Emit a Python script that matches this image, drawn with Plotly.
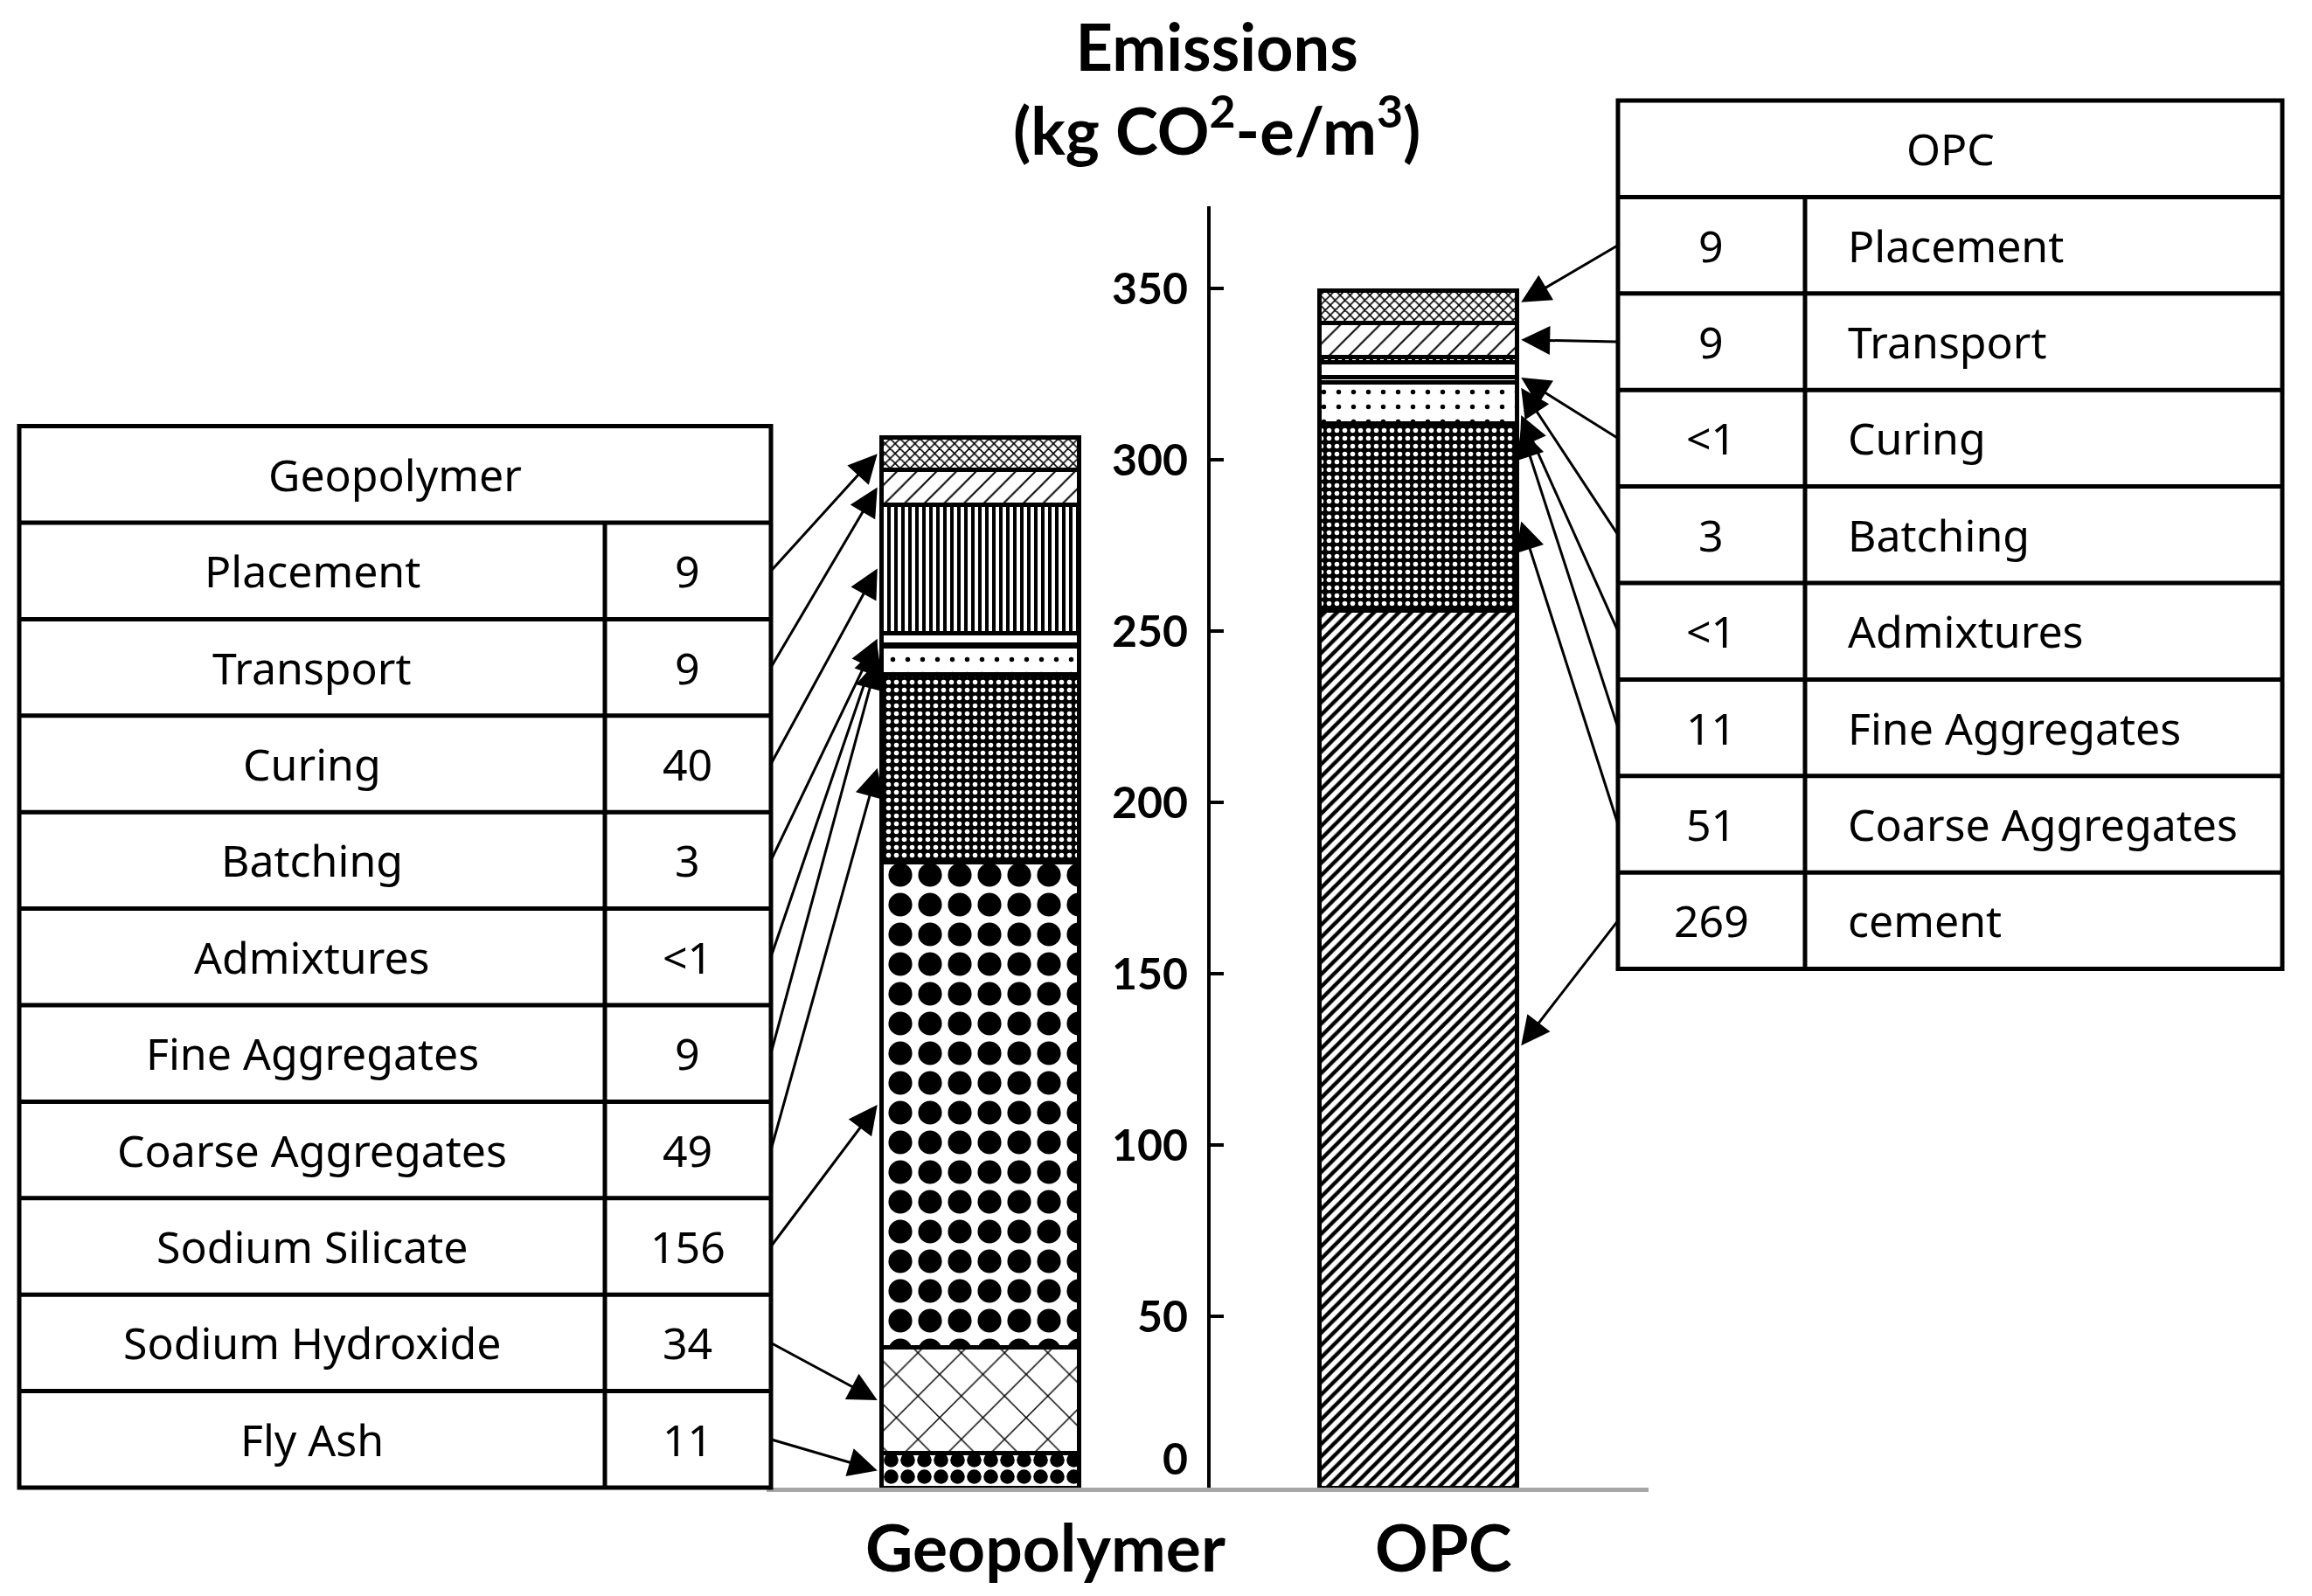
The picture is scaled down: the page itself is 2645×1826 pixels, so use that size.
import plotly.graph_objects as go

W, H = 2645, 1826
OFF = 8  # the page puts the figure 8px in from the top-left corner

CATEGORIES = ["Geopolymer", "OPC"]

# stacked segments, bottom to top (heights as drawn in the bars)
GEO_PARTS = ["Fly Ash", "Sodium Hydroxide", "Sodium Silicate", "Coarse Aggregates",
             "Fine Aggregates", "Admixtures", "Batching", "Curing", "Transport", "Placement"]
GEO_VALUES = [10, 31, 141.5, 55, 8, 0.5, 3.5, 37.5, 10, 9.5]

OPC_PARTS = ["cement", "Coarse Aggregates", "Fine Aggregates", "Admixtures",
             "Batching", "Curing", "Transport", "Placement"]
OPC_VALUES = [256, 54.5, 12, 1.5, 4.5, 1.5, 10, 9.5]

# table contents, top to bottom
GEO_TABLE_NAMES = ["Placement", "Transport", "Curing", "Batching", "Admixtures",
                   "Fine Aggregates", "Coarse Aggregates", "Sodium Silicate",
                   "Sodium Hydroxide", "Fly Ash"]
GEO_TABLE_VALUES = ["9", "9", "40", "3", "<1", "9", "49", "156", "34", "11"]

OPC_TABLE_NAMES = ["Placement", "Transport", "Curing", "Batching", "Admixtures",
                   "Fine Aggregates", "Coarse Aggregates", "cement"]
OPC_TABLE_VALUES = ["9", "9", "<1", "3", "<1", "11", "51", "269"]

# where the OPC arrows land on the bar (table order)
OPC_ARROW_AT = [346, 335, 324, 321, 313, 309, 282, 129]

Y_TICKS = [0, 50, 100, 150, 200, 250, 300, 350]
Y_MAX = 374

PATTERNS = {
    "Placement": dict(shape="x", size=8, solidity=0.35),
    "Transport": dict(shape="/", size=16, solidity=0.12),
    "Curing": dict(shape="|", size=8, solidity=0.5),
    "Batching": dict(shape=""),
    "Admixtures": dict(shape=""),
    "Fine Aggregates": dict(shape=".", size=17, solidity=0.08),
    "Coarse Aggregates": dict(shape=".", size=9, solidity=0.3, fgcolor="white", bgcolor="black"),
    "Sodium Silicate": dict(shape=".", size=34, solidity=0.5),
    "Sodium Hydroxide": dict(shape="x", size=35, solidity=0.08),
    "Fly Ash": dict(shape=".", size=19, solidity=0.6),
    "cement": dict(shape="/", size=10, solidity=0.45),
}


def px(x):
    return (x - OFF) / W


def py(y):
    return 1 - (y - OFF) / H


def esc(s):
    return s.replace("<", "&lt;")


BAR_W = 0.45
XD = [px(877), px(1886)]
XR = [-0.488, 1.526]
YD = [py(1702), py(236)]

BOLD = dict(family="Lato", color="black", weight="bold")
TABLE_FONT = dict(family="Noto Sans", size=50, color="black")


def x_of(p):
    return XR[0] + (p - XD[0]) / (XD[1] - XD[0]) * (XR[1] - XR[0])


def y_of(p):
    return (p - YD[0]) / (YD[1] - YD[0]) * Y_MAX


fig = go.Figure()

for cat, parts, values in [(CATEGORIES[0], GEO_PARTS, GEO_VALUES),
                           (CATEGORIES[1], OPC_PARTS, OPC_VALUES)]:
    for part, v in zip(parts, values):
        pat = dict(fgcolor="black", bgcolor="white", fillmode="replace")
        pat.update(PATTERNS[part])
        fig.add_trace(go.Bar(
            x=[cat], y=[v], width=BAR_W, name=part,
            marker=dict(color="white", line=dict(color="black", width=5), pattern=pat),
            showlegend=False, hoverinfo="skip",
        ))

# tables
RH = 110.4 / H
LT = dict(x0=px(22), xd=px(692), x1=px(882), top=YD[0] + 11 * RH)
RT = dict(x0=px(1851), xd=px(2065), x1=px(2611), top=py(115))


def table_text(x, y, text, anchor="center"):
    fig.add_annotation(x=x, y=y, xref="paper", yref="paper", xanchor=anchor,
                       yanchor="middle", text=esc(text), showarrow=False, font=TABLE_FONT)


def draw_table(t, header, n):
    bottom = t["top"] - (n + 1) * RH
    line = dict(color="black", width=5)
    fig.add_shape(type="rect", xref="paper", yref="paper", x0=t["x0"], x1=t["x1"],
                  y0=bottom, y1=t["top"], line=line)
    for i in range(1, n + 1):
        yy = t["top"] - i * RH
        fig.add_shape(type="line", xref="paper", yref="paper", x0=t["x0"], x1=t["x1"],
                      y0=yy, y1=yy, line=line)
    fig.add_shape(type="line", xref="paper", yref="paper", x0=t["xd"], x1=t["xd"],
                  y0=bottom, y1=t["top"] - RH, line=line)
    table_text((t["x0"] + t["x1"]) / 2, t["top"] - RH / 2, header)


def row_mid(t, i):
    return t["top"] - (i + 1.5) * RH


draw_table(LT, "Geopolymer", len(GEO_TABLE_NAMES))
draw_table(RT, "OPC", len(OPC_TABLE_NAMES))

for i, (name, val) in enumerate(zip(GEO_TABLE_NAMES, GEO_TABLE_VALUES)):
    table_text((LT["x0"] + LT["xd"]) / 2, row_mid(LT, i), name)
    table_text((LT["xd"] + LT["x1"]) / 2, row_mid(LT, i), val)

for i, (name, val) in enumerate(zip(OPC_TABLE_NAMES, OPC_TABLE_VALUES)):
    table_text((RT["x0"] + RT["xd"]) / 2, row_mid(RT, i), val)
    table_text(px(2112), row_mid(RT, i), name, anchor="left")

# arrows from the tables to the bar segments
arrow = dict(xref="x", yref="y", axref="x", ayref="y", text="", showarrow=True,
             arrowhead=2, arrowsize=2.2, arrowwidth=3, arrowcolor="black", standoff=0)

cum = 0
geo_mid = {}
for part, v in zip(GEO_PARTS, GEO_VALUES):
    geo_mid[part] = cum + v / 2
    cum += v
for i, name in enumerate(GEO_TABLE_NAMES):
    fig.add_annotation(x=-BAR_W / 2 - 0.01, y=geo_mid[name],
                       ax=x_of(LT["x1"]), ay=y_of(row_mid(LT, i)), **arrow)

for i, at in enumerate(OPC_ARROW_AT):
    fig.add_annotation(x=1 + BAR_W / 2 + 0.01, y=at,
                       ax=x_of(RT["x0"]), ay=y_of(row_mid(RT, i)), **arrow)

# title and category labels
fig.add_annotation(x=px(1392), y=py(6), xref="paper", yref="paper", xanchor="center",
                   yanchor="top",
                   text="Emissions<br>(kg CO<sup>2</sup>-e/m<sup>3</sup>)", showarrow=False,
                   font=dict(size=74, **BOLD))
for cat, shift in zip(CATEGORIES, [75, 29]):
    fig.add_annotation(x=cat, y=py(1722), xref="x", yref="paper", xanchor="center",
                       yanchor="top", xshift=shift, text=cat, showarrow=False,
                       font=dict(size=75, **BOLD))

# the zero label sits just above the base line
tick_text = [str(t) if t else "0<br> " for t in Y_TICKS]

fig.update_layout(
    width=W, height=H,
    margin=dict(l=0, r=0, t=0, b=0, autoexpand=False),
    barmode="stack",
    paper_bgcolor="white",
    plot_bgcolor="white",
    showlegend=False,
    xaxis=dict(type="category", categoryorder="array", categoryarray=CATEGORIES,
               domain=XD, range=XR, showline=True, linecolor="#a6a6a6", linewidth=5,
               showticklabels=False, ticks="", showgrid=False, zeroline=False,
               anchor="y", fixedrange=True, automargin=False),
    yaxis=dict(domain=YD, range=[0, Y_MAX], anchor="free", position=px(1383),
               showline=True, linecolor="black", linewidth=4, ticks="inside",
               ticklen=15, tickwidth=4, tickcolor="black", tickvals=Y_TICKS,
               ticktext=tick_text,
               tickfont=dict(size=50, **BOLD), ticklabelstandoff=12,
               showgrid=False, zeroline=False, fixedrange=True, automargin=False),
)

fig.write_html("out.html")
